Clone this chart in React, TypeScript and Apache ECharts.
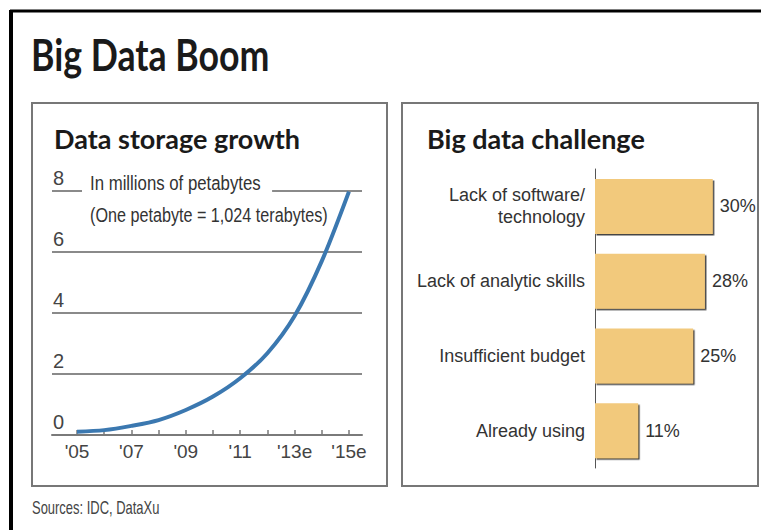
import React, { useEffect, useRef } from "react";
import * as echarts from "echarts";

const years = [2005, 2006, 2007, 2008, 2009, 2010, 2011, 2012, 2013, 2014, 2015];
const storage = [0.11, 0.16, 0.3, 0.49, 0.82, 1.26, 1.86, 2.68, 3.9, 5.7, 7.98];
const labelYears = [2005, 2007, 2009, 2011, 2013, 2015];
const yearLabels = ["'05", "'07", "'09", "'11", "'13e", "'15e"];
const yTicks = [0, 2, 4, 6, 8];

const challenges = ["Lack of software/\ntechnology", "Lack of analytic skills", "Insufficient budget", "Already using"];
const challengePct = [30, 28, 25, 11];

const NARROW = "'Liberation Sans', sans-serif";
const HEAD = "Lato, 'Open Sans', sans-serif";

export default function App() {
  const ref = useRef<HTMLDivElement>(null);
  useEffect(() => {
    if (!ref.current) return;
    const chart = echarts.init(ref.current, null, { renderer: "svg" });
    chart.setOption({
      animation: false,
      backgroundColor: "#ffffff",
      grid: [
        { left: 52, right: 399, top: 191, bottom: 95 },
        { left: 595, right: 9, top: 169, bottom: 62 },
      ],
      xAxis: [
        {
          gridIndex: 0,
          type: "value",
          min: 2004.08,
          max: 2015.48,
          axisLine: { show: true, lineStyle: { color: "#7a7a7a", width: 2 } },
          axisTick: { show: true, inside: true, length: 5, customValues: years, lineStyle: { color: "#7a7a7a", width: 1.5 } },
          axisLabel: {
            customValues: labelYears,
            formatter: (v: number) => yearLabels[labelYears.indexOf(Math.round(v))] ?? "",
            fontFamily: NARROW,
            fontSize: 19,
            color: "#444",
            margin: 7,
          },
          splitLine: { show: false },
        },
        { gridIndex: 1, type: "value", min: 0, max: 40, show: false },
      ],
      yAxis: [
        {
          gridIndex: 0,
          type: "value",
          min: 0,
          max: 8,
          interval: 2,
          axisLine: { show: false },
          axisTick: { show: false },
          axisLabel: {
            inside: true,
            margin: 1,
            verticalAlign: "bottom",
            align: "left",
            padding: [0, 0, 3, 0],
            fontFamily: NARROW,
            fontSize: 20,
            color: "#444",
            customValues: yTicks,
          },
          splitLine: { show: true, lineStyle: { color: "#8a8a8a", width: 2 } },
        },
        {
          gridIndex: 1,
          type: "category",
          data: challenges,
          inverse: true,
          axisLine: { show: true, lineStyle: { color: "#555", width: 1 } },
          axisTick: { show: false },
          axisLabel: { fontFamily: NARROW, fontSize: 18, lineHeight: 22, color: "#333", margin: 10, align: "right" },
        },
      ],
      graphic: [
        { type: "line", shape: { x1: 10, y1: 11, x2: 761, y2: 11 }, style: { stroke: "#000", lineWidth: 3 } },
        { type: "line", shape: { x1: 11, y1: 10, x2: 11, y2: 530 }, style: { stroke: "#000", lineWidth: 4 } },
        { type: "rect", shape: { x: 32, y: 103, width: 355, height: 383 }, style: { fill: "none", stroke: "#777", lineWidth: 2 } },
        { type: "rect", shape: { x: 402, y: 103, width: 356, height: 383 }, style: { fill: "none", stroke: "#777", lineWidth: 2 } },
        { type: "text", x: 31, y: 54, scaleX: 0.83, style: { text: "Big Data Boom", font: `bold 43px ${HEAD}`, fill: "#1a1a1a", verticalAlign: "middle" } },
        { type: "text", x: 54, y: 138, style: { text: "Data storage growth", font: `bold 27px ${HEAD}`, fill: "#1a1a1a", verticalAlign: "middle" } },
        { type: "text", x: 427, y: 138, style: { text: "Big data challenge", font: `bold 27px ${HEAD}`, fill: "#1a1a1a", verticalAlign: "middle" } },
        {
          type: "text", x: 82, y: 183, z: 10, scaleX: 0.8,
          style: { text: "In millions of petabytes", font: `21px ${NARROW}`, fill: "#333", verticalAlign: "middle", backgroundColor: "#fff", padding: [0, 14, 0, 10] },
        },
        { type: "text", x: 90, y: 215, z: 10, scaleX: 0.77, style: { text: "(One petabyte = 1,024 terabytes)", font: `21px ${NARROW}`, fill: "#333", verticalAlign: "middle" } },
        { type: "text", x: 32, y: 508, scaleX: 0.72, style: { text: "Sources: IDC, DataXu", font: `18px ${NARROW}`, fill: "#444", verticalAlign: "middle" } },
      ],
      series: [
        {
          type: "line", xAxisIndex: 0, yAxisIndex: 0,
          data: years.map((y, i) => [y, storage[i]]),
          smooth: 0.3, showSymbol: false, symbol: "none",
          lineStyle: { color: "#3b78b0", width: 4 }, z: 3,
        },
        {
          type: "bar", xAxisIndex: 1, yAxisIndex: 1, data: challengePct, barWidth: 55,
          itemStyle: { color: "#f2c97c", shadowColor: "rgba(50,50,50,0.9)", shadowOffsetX: 1.5, shadowOffsetY: 1.5, shadowBlur: 1 },
          label: { show: true, position: "right", distance: 7, formatter: "{c}%", fontFamily: NARROW, fontSize: 18, color: "#333" },
        },
      ],
    });
    return () => chart.dispose();
  }, []);
  return <div ref={ref} style={{ position: "fixed", left: 0, top: 0, width: 761, height: 530 }} />;
}
